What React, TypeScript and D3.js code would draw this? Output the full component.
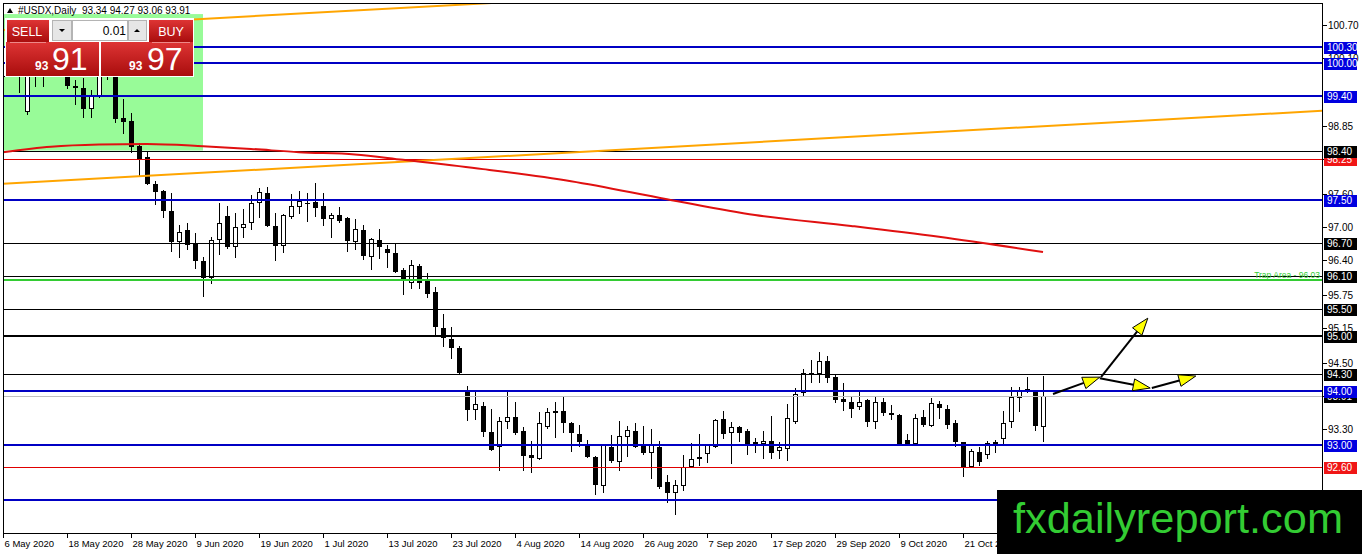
"use client";

import React, { useEffect, useRef } from "react";
import * as d3 from "d3";

// daily bars from 6 May 2020 (index 0) to 4 Nov 2020 (index 130)
const opens = [
  99.75, 100.3, 100.1, 99.11, 100.15, 99.95, 100.2, 100.45, 100.38, 99.58,
  99.55, 99.16, 99.4, 99.85, 99.88, 99.0, 98.94, 98.48, 98.28, 97.79,
  97.66, 97.29, 96.73, 96.95, 96.71, 96.38, 96.07, 96.76, 97.2, 96.63,
  96.98, 97.07, 97.44, 97.62, 97.02, 96.65, 97.18, 97.37, 97.44, 97.46,
  97.38, 97.15, 97.22, 97.17, 96.73, 96.95, 96.45, 96.76, 96.6, 96.52,
  96.21, 95.97, 96.29, 96.01, 95.81, 95.15, 94.95, 94.78, 93.98, 93.64,
  93.72, 93.25, 92.97, 93.43, 93.52, 93.26, 92.82, 92.75, 93.34, 93.59,
  93.63, 93.41, 93.21, 93.03, 92.79, 92.26, 92.97, 92.7, 93.15, 93.26,
  93.0, 92.86, 92.97, 92.33, 92.13, 92.26, 92.6, 92.75, 92.84, 92.97,
  93.48, 93.23, 93.34, 93.26, 93.03, 93.03, 93.08, 92.9, 92.93, 93.43,
  93.96, 94.31, 94.31, 94.55, 94.25, 93.85, 93.8, 93.7, 93.83, 93.43,
  93.8, 93.59, 93.56, 93.1, 93.03, 93.52, 93.36, 93.76, 93.67, 93.41,
  93.06, 92.6, 92.88, 92.82, 93.06, 93.12, 93.43, 93.87, 93.98, 94.0,
  93.34,
];
const highs = [
  100.35, 100.42, 100.2, 100.25, 100.3, 100.3, 100.55, 100.6, 100.45, 99.69,
  99.73, 99.51, 99.95, 100.0, 99.95, 99.34, 99.09, 98.54, 98.37, 97.84,
  97.68, 97.62, 97.04, 97.07, 96.89, 96.45, 96.82, 97.44, 97.38, 97.26,
  97.33, 97.59, 97.71, 97.73, 97.26, 97.24, 97.6, 97.66, 97.62, 97.81,
  97.62, 97.26, 97.37, 97.18, 97.15, 97.04, 96.8, 96.96, 96.67, 96.69,
  96.25, 96.4, 96.32, 96.16, 95.9, 95.41, 95.17, 94.82, 94.09, 93.98,
  93.8, 93.67, 93.52, 93.98, 93.8, 93.34, 93.08, 93.61, 93.69, 93.8,
  93.89, 93.43, 93.37, 93.1, 92.81, 93.02, 93.19, 93.45, 93.36, 93.41,
  93.36, 93.3, 93.08, 92.46, 92.37, 92.82, 93.04, 93.21, 93.03, 93.49,
  93.63, 93.43, 93.36, 93.3, 93.14, 93.26, 93.54, 93.06, 93.76, 94.05,
  94.4, 94.56, 94.71, 94.64, 94.29, 94.14, 93.89, 93.98, 93.85, 93.89,
  93.87, 93.74, 93.58, 93.21, 93.58, 93.65, 93.87, 93.81, 93.74, 93.47,
  93.07, 92.93, 92.97, 93.08, 93.1, 93.63, 94.07, 94.07, 94.25, 94.02,
  94.27,
];
const lows = [
  99.72, 99.8, 99.45, 99.05, 99.56, 99.56, 99.95, 100.1, 99.52, 99.23,
  99.0, 99.0, 99.36, 99.69, 98.91, 98.7, 98.36, 97.93, 97.77, 97.4,
  97.17, 96.54, 96.43, 96.58, 96.23, 95.72, 95.96, 96.49, 96.6, 96.43,
  96.8, 96.95, 97.17, 97.0, 96.38, 96.52, 97.15, 97.24, 97.09, 97.18,
  97.02, 96.8, 97.07, 96.54, 96.58, 96.4, 96.21, 96.41, 96.25, 96.16,
  95.75, 95.86, 95.86, 95.7, 95.02, 94.8, 94.58, 94.31, 93.45, 93.47,
  93.15, 92.9, 92.53, 93.3, 93.19, 92.53, 92.49, 92.73, 93.3, 93.14,
  93.23, 92.88, 92.97, 92.77, 92.09, 92.13, 92.68, 92.53, 92.79, 92.95,
  92.82, 92.39, 92.2, 91.95, 91.73, 92.16, 92.58, 92.62, 92.68, 92.95,
  93.12, 92.66, 93.06, 92.82, 92.86, 92.75, 92.75, 92.75, 92.71, 93.4,
  93.89, 94.14, 94.14, 94.14, 93.78, 93.63, 93.5, 93.65, 93.34, 93.3,
  93.54, 93.47, 92.98, 92.99, 93.02, 93.34, 93.34, 93.48, 93.3, 92.97,
  92.42, 92.59, 92.62, 92.75, 92.86, 93.03, 93.32, 93.61, 93.96, 93.26,
  93.06,
];
const closes = [
  100.3, 100.1, 99.85, 100.15, 99.95, 100.2, 100.45, 100.38, 99.58, 99.55,
  99.16, 99.4, 99.85, 99.88, 98.97, 98.92, 98.47, 98.25, 97.79, 97.64,
  97.29, 96.73, 96.91, 96.67, 96.38, 96.07, 96.76, 97.07, 96.63, 97.0,
  97.05, 97.44, 97.64, 97.02, 96.65, 97.22, 97.38, 97.48, 97.43, 97.35,
  97.15, 97.22, 97.11, 96.74, 96.96, 96.47, 96.78, 96.63, 96.52, 96.18,
  96.05, 96.3, 95.97, 95.77, 95.17, 94.97, 94.78, 94.33, 93.65, 93.76,
  93.25, 92.92, 93.45, 93.52, 93.23, 92.81, 92.77, 93.41, 93.61, 93.63,
  93.41, 93.23, 93.06, 92.79, 92.28, 93.0, 92.71, 93.17, 93.28, 92.97,
  92.86, 93.0, 92.24, 92.13, 92.28, 92.6, 92.75, 92.79, 93.0, 93.47,
  93.21, 93.34, 93.23, 93.03, 93.06, 93.08, 92.86, 92.97, 93.5, 93.94,
  94.33, 94.33, 94.55, 94.23, 93.83, 93.8, 93.67, 93.8, 93.43, 93.8,
  93.59, 93.56, 92.99, 93.03, 93.5, 93.37, 93.78, 93.69, 93.37, 93.06,
  92.6, 92.9, 92.7, 93.04, 93.03, 93.41, 93.89, 94.0, 94.03, 93.36,
  93.91,
];

// one date label every 8 bars
const dateLabels = [
  "6 May 2020", "18 May 2020", "28 May 2020", "9 Jun 2020", "19 Jun 2020",
  "1 Jul 2020", "13 Jul 2020", "23 Jul 2020", "4 Aug 2020", "14 Aug 2020",
  "26 Aug 2020", "7 Sep 2020", "17 Sep 2020", "29 Sep 2020", "9 Oct 2020",
  "21 Oct 2020", "2 Nov 2020",
];
// price scale ticks (those hidden by the level boxes are left out)
const priceTicks = [
  100.7, 100.1, 98.85, 98.25, 97.6, 97.0, 96.4, 95.75, 95.15, 94.5, 93.9, 93.3,
];

// horizontal levels (drawn in this order, later labels on top)
const levelPrices = [
  100.3, 100.0, 99.4, 98.25, 98.4, 97.5, 96.7, 96.1, 95.5, 95.0, 94.3, 93.91,
  94.0, 93.0, 92.6, 92.0,
];
const levelTypes = [
  "blue", "blue", "blue", "red", "black", "blue", "black", "black", "black",
  "bold", "black", "bid", "blue", "blue", "red", "blue",
];
const trapLevel = 96.03;
const trapLabel = "Trap Area - 96.03";

// moving average read at some bars
const maBars = [0, 6, 12, 18, 25, 31, 37, 44, 50, 60, 71, 83, 94, 106, 117, 130];
const maValues = [
  98.37, 98.47, 98.51, 98.52, 98.48, 98.43, 98.37, 98.33, 98.23, 98.06, 97.84,
  97.51, 97.22, 97.02, 96.82, 96.54,
];

// channel trend lines
const trendBars = [0, 165];
const lowerTrend = [97.79, 99.13];
const upperTrend = [100.61, 101.94];

// green zone rectangle
const zoneBars = [-2, 25];
const zonePrices = [98.4, 100.9];

// projection arrows
const arrowFromBars = [131.25, 137.25, 137.1, 143.6];
const arrowFromPrices = [93.94, 94.25, 94.23, 94.05];
const arrowToBars = [137.1, 143.1, 143.4, 149.1];
const arrowToPrices = [94.25, 95.33, 94.05, 94.27];

const header = "#USDX,Daily  93.34 94.27 93.06 93.91";

const App: React.FC = () => {
  const chartRef = useRef<SVGSVGElement | null>(null);

  useEffect(() => {
    if (!chartRef.current) return;
    const width = 1362;
    const height = 554;
    const plot = { left: 3, right: 1322, top: 3, bottom: 533 };
    const font = "'Liberation Sans', Arial, sans-serif";

    const svg = d3.select(chartRef.current);
    svg.selectAll("*").remove();

    const x = d3.scaleLinear().domain([0, 130]).range([3, 1043]);
    const y = d3.scaleLinear().domain([93.3, 100.7]).range([429, 25]);

    svg.append("rect").attr("width", width).attr("height", height).attr("fill", "#fff");

    const defs = svg.append("defs");
    defs
      .append("clipPath")
      .attr("id", "plotClip")
      .append("rect")
      .attr("x", plot.left)
      .attr("y", plot.top)
      .attr("width", plot.right - plot.left)
      .attr("height", plot.bottom - plot.top);
    const grad = defs
      .append("linearGradient")
      .attr("id", "redBtn")
      .attr("x1", 0)
      .attr("y1", 0)
      .attr("x2", 0)
      .attr("y2", 1);
    grad.append("stop").attr("offset", "0%").attr("stop-color", "#de3434");
    grad.append("stop").attr("offset", "100%").attr("stop-color", "#a90d0d");

    const g = svg.append("g").attr("clip-path", "url(#plotClip)");

    // zone
    g.append("rect")
      .attr("x", x(zoneBars[0]))
      .attr("y", y(zonePrices[1]))
      .attr("width", x(zoneBars[1]) - x(zoneBars[0]))
      .attr("height", y(zonePrices[0]) - y(zonePrices[1]))
      .attr("fill", "#98fb98");

    // candles
    const idx = d3.range(opens.length);
    const cg = g.append("g").attr("shape-rendering", "crispEdges");
    const cx = (i: number) => Math.round(x(i));
    const up = (i: number) => closes[i] >= opens[i];
    cg.selectAll("line.wick")
      .data(idx)
      .join("line")
      .attr("class", "wick")
      .attr("x1", (i) => cx(i) + 0.5)
      .attr("x2", (i) => cx(i) + 0.5)
      .attr("y1", (i) => Math.round(y(highs[i])))
      .attr("y2", (i) => Math.round(y(lows[i])))
      .attr("stroke", "#000")
      .attr("stroke-width", 1);
    cg.selectAll("rect.body")
      .data(idx)
      .join("rect")
      .attr("class", "body")
      .attr("x", (i) => (up(i) ? cx(i) - 1.5 : cx(i) - 2))
      .attr("y", (i) => {
        const t = Math.round(y(Math.max(opens[i], closes[i])));
        return up(i) ? t + 0.5 : t;
      })
      .attr("width", (i) => (up(i) ? 4 : 5))
      .attr("height", (i) => {
        const t = Math.round(y(Math.max(opens[i], closes[i])));
        const b = Math.round(y(Math.min(opens[i], closes[i])));
        return Math.max(up(i) ? b - t - 1 : b - t, 1);
      })
      .attr("fill", (i) => (up(i) ? "#fff" : "#000"))
      .attr("stroke", (i) => (up(i) ? "#000" : "none"))
      .attr("stroke-width", 1);

    // horizontal levels
    const lineStyle: Record<string, { c: string; w: number; box: string }> = {
      blue: { c: "#0000c4", w: 2, box: "#0000e0" },
      black: { c: "#000", w: 1, box: "#000" },
      bold: { c: "#000", w: 2, box: "#000" },
      red: { c: "#e00000", w: 1, box: "#f01616" },
      bid: { c: "#c0c0c0", w: 1, box: "#000" },
    };
    const lg = g.append("g").attr("shape-rendering", "crispEdges");
    levelPrices.forEach((p, i) => {
      const s = lineStyle[levelTypes[i]];
      const yy = Math.round(y(p)) + (s.w === 1 ? 0.5 : 0);
      lg.append("line")
        .attr("x1", plot.left)
        .attr("x2", plot.right)
        .attr("y1", yy)
        .attr("y2", yy)
        .attr("stroke", s.c)
        .attr("stroke-width", s.w);
    });
    const trapY = Math.round(y(trapLevel));
    lg.append("line")
      .attr("x1", plot.left)
      .attr("x2", plot.right)
      .attr("y1", trapY)
      .attr("y2", trapY)
      .attr("stroke", "#33cc33")
      .attr("stroke-width", 2);
    g.append("text")
      .attr("x", plot.right - 2)
      .attr("y", trapY - 2)
      .attr("text-anchor", "end")
      .attr("font-family", font)
      .attr("font-size", 8.5)
      .attr("fill", "#33cc33")
      .text(trapLabel);

    // trend lines
    [lowerTrend, upperTrend].forEach((tr) => {
      g.append("line")
        .attr("x1", x(trendBars[0]))
        .attr("y1", y(tr[0]))
        .attr("x2", x(trendBars[1]))
        .attr("y2", y(tr[1]))
        .attr("stroke", "#ffa500")
        .attr("stroke-width", 2);
    });

    // moving average
    const ma = d3
      .line<number>()
      .x((d, i) => x(maBars[i]))
      .y((d) => y(d))
      .curve(d3.curveMonotoneX);
    g.append("path")
      .attr("d", ma(maValues))
      .attr("fill", "none")
      .attr("stroke", "#e01010")
      .attr("stroke-width", 2);

    // arrows
    const ag = g.append("g");
    arrowFromBars.forEach((b, i) => {
      const x1 = x(b);
      const y1 = y(arrowFromPrices[i]);
      const x2 = x(arrowToBars[i]);
      const y2 = y(arrowToPrices[i]);
      const len = Math.hypot(x2 - x1, y2 - y1);
      const ux = (x2 - x1) / len;
      const uy = (y2 - y1) / len;
      const hl = 17;
      const hw = 6;
      const bx = x2 - ux * hl;
      const by = y2 - uy * hl;
      ag.append("line")
        .attr("x1", x1)
        .attr("y1", y1)
        .attr("x2", bx)
        .attr("y2", by)
        .attr("stroke", "#000")
        .attr("stroke-width", 2);
      ag.append("polygon")
        .attr(
          "points",
          [
            [x2, y2],
            [bx - uy * hw, by + ux * hw],
            [bx + uy * hw, by - ux * hw],
          ]
            .map((p) => p.join(","))
            .join(" ")
        )
        .attr("fill", "#ffff00")
        .attr("stroke", "#000")
        .attr("stroke-width", 1);
    });

    // frame
    svg
      .append("rect")
      .attr("x", plot.left + 0.5)
      .attr("y", plot.top + 0.5)
      .attr("width", plot.right - plot.left)
      .attr("height", plot.bottom - plot.top)
      .attr("fill", "none")
      .attr("stroke", "#000")
      .attr("shape-rendering", "crispEdges");

    // price axis
    const axis = svg.append("g").attr("font-family", font).attr("font-size", 10);
    priceTicks.forEach((p) => {
      const yy = Math.round(y(p)) + 0.5;
      axis
        .append("line")
        .attr("x1", plot.right + 1)
        .attr("x2", plot.right + 5)
        .attr("y1", yy)
        .attr("y2", yy)
        .attr("stroke", "#000")
        .attr("shape-rendering", "crispEdges");
      axis
        .append("text")
        .attr("x", plot.right + 6)
        .attr("y", yy)
        .attr("dy", "0.36em")
        .attr("fill", "#000")
        .text(p.toFixed(2));
    });
    levelPrices.forEach((p, i) => {
      const s = lineStyle[levelTypes[i]];
      const yy = Math.round(y(p));
      axis
        .append("rect")
        .attr("x", plot.right + 2)
        .attr("y", yy - 5)
        .attr("width", 33)
        .attr("height", 12)
        .attr("fill", s.box);
      axis
        .append("text")
        .attr("x", plot.right + 5)
        .attr("y", yy + 0.5)
        .attr("dy", "0.36em")
        .attr("fill", "#fff")
        .text(p.toFixed(2));
    });

    // time axis
    dateLabels.forEach((label, i) => {
      const xx = Math.round(x(i * 8)) + 0.5;
      axis
        .append("line")
        .attr("x1", xx)
        .attr("x2", xx)
        .attr("y1", plot.bottom)
        .attr("y2", plot.bottom + 5)
        .attr("stroke", "#000")
        .attr("shape-rendering", "crispEdges");
      axis
        .append("text")
        .attr("x", xx + 1)
        .attr("y", plot.bottom + 14)
        .attr("font-size", 9.5)
        .attr("fill", "#000")
        .text(label);
    });

    // header
    svg
      .append("polygon")
      .attr("points", "7,13 13,13 10,8")
      .attr("fill", "#000");
    svg
      .append("text")
      .attr("x", 18)
      .attr("y", 14)
      .attr("font-family", font)
      .attr("font-size", 10)
      .attr("fill", "#000")
      .style("white-space", "pre")
      .text(header);

    // one-click trading panel
    const panel = svg.append("g").attr("font-family", font);
    panel.append("rect").attr("x", 5).attr("y", 18).attr("width", 189).attr("height", 59).attr("fill", "#fff");
    panel.append("rect").attr("x", 7).attr("y", 20).attr("width", 42).attr("height", 22).attr("fill", "url(#redBtn)");
    panel.append("rect").attr("x", 149).attr("y", 20).attr("width", 44).attr("height", 22).attr("fill", "url(#redBtn)");
    panel.append("text").attr("x", 27).attr("y", 36).attr("text-anchor", "middle").attr("font-size", 12.5).attr("fill", "#fff").text("SELL");
    panel.append("text").attr("x", 171).attr("y", 36).attr("text-anchor", "middle").attr("font-size", 12.5).attr("fill", "#fff").text("BUY");
    panel.append("rect").attr("x", 52.5).attr("y", 20.5).attr("width", 19).attr("height", 20).attr("fill", "#e6e6e6").attr("stroke", "#b4b4b4");
    panel.append("rect").attr("x", 72.5).attr("y", 20.5).attr("width", 55).attr("height", 20).attr("fill", "#fff").attr("stroke", "#b4b4b4");
    panel.append("rect").attr("x", 128.5).attr("y", 20.5).attr("width", 18).attr("height", 20).attr("fill", "#e6e6e6").attr("stroke", "#b4b4b4");
    panel.append("polygon").attr("points", "59,29 65,29 62,32").attr("fill", "#000");
    panel.append("polygon").attr("points", "134,32 140,32 137,29").attr("fill", "#000");
    panel.append("text").attr("x", 126).attr("y", 35).attr("text-anchor", "end").attr("font-size", 12).attr("fill", "#000").text("0.01");
    panel.append("rect").attr("x", 6).attr("y", 42).attr("width", 93).attr("height", 34).attr("fill", "url(#redBtn)");
    panel.append("rect").attr("x", 101).attr("y", 42).attr("width", 92).attr("height", 34).attr("fill", "url(#redBtn)");
    panel.append("line").attr("x1", 10).attr("x2", 46).attr("y1", 42.5).attr("y2", 42.5).attr("stroke", "#e88").attr("stroke-width", 1);
    panel.append("line").attr("x1", 152).attr("x2", 190).attr("y1", 42.5).attr("y2", 42.5).attr("stroke", "#e88").attr("stroke-width", 1);
    panel.append("text").attr("x", 35).attr("y", 70).attr("font-size", 12).attr("font-weight", "bold").attr("fill", "#fff").text("93");
    panel.append("text").attr("x", 52).attr("y", 70).attr("font-size", 32).attr("fill", "#fff").text("91");
    panel.append("text").attr("x", 129).attr("y", 70).attr("font-size", 12).attr("font-weight", "bold").attr("fill", "#fff").text("93");
    panel.append("text").attr("x", 147).attr("y", 70).attr("font-size", 32).attr("fill", "#fff").text("97");

    // watermark
    svg.append("rect").attr("x", 997).attr("y", 490).attr("width", 365).attr("height", 64).attr("fill", "#000");
    svg
      .append("text")
      .attr("x", 1013)
      .attr("y", 533)
      .attr("font-family", "'Liberation Sans Narrow', 'Liberation Sans', Arial, sans-serif")
      .attr("font-size", 43)
      .attr("textLength", 330)
      .attr("lengthAdjust", "spacingAndGlyphs")
      .attr("fill", "#33cc33")
      .text("fxdailyreport.com");
  }, []);

  return (
    <svg
      ref={chartRef}
      width={1362}
      height={554}
      style={{ position: "absolute", left: 0, top: 0, display: "block" }}
    />
  );
};

export default App;
